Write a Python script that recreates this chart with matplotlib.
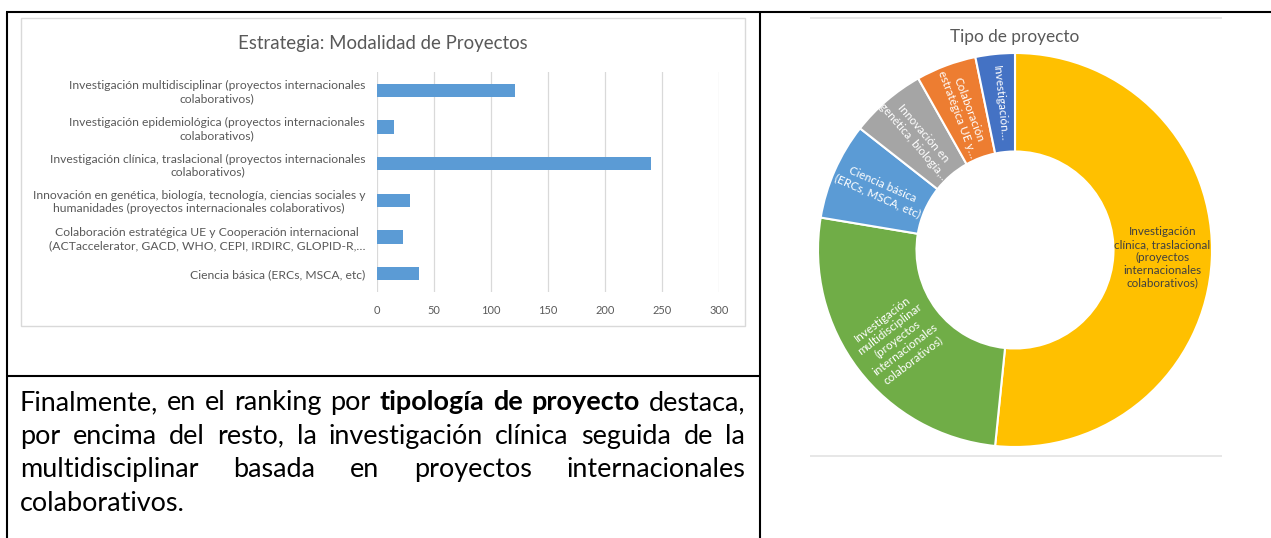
import matplotlib
matplotlib.use("Agg")
import matplotlib.pyplot as plt
from matplotlib.lines import Line2D
from matplotlib.patches import Rectangle
import numpy as np

# ---------------- data ----------------
bar_title = "Estrategia: Modalidad de Proyectos"
categories = [
    "Investigación multidisciplinar (proyectos internacionales\ncolaborativos)",
    "Investigación epidemiológica (proyectos internacionales\ncolaborativos)",
    "Investigación clínica, traslacional (proyectos internacionales\ncolaborativos)",
    "Innovación en genética, biología, tecnología, ciencias sociales y\nhumanidades (proyectos internacionales colaborativos)",
    "Colaboración estratégica UE y Cooperación internacional\n(ACTaccelerator, GACD, WHO, CEPI, IRDIRC, GLOPID-R,…",
    "Ciencia básica (ERCs, MSCA, etc)",
]
values = [121, 15, 240, 29, 23, 37]
xticks = [0, 50, 100, 150, 200, 250, 300]

donut_title = "Tipo de proyecto"
donut_order = [2, 0, 5, 3, 4, 1]  # clockwise from 12 o'clock
donut_labels = [
    "Investigación\nclínica, traslacional\n(proyectos\ninternacionales\ncolaborativos)",
    "Investigación\nmultidisciplinar\n(proyectos\ninternacionales\ncolaborativos)",
    "Ciencia básica\n(ERCs, MSCA, etc)",
    "Innovación en\ngenética, biología,…",
    "Colaboración\nestratégica UE y…",
    "Investigación…",
]
donut_colors = ["#FFC000", "#70AD47", "#5B9BD5", "#A5A5A5", "#ED7D31", "#4472C4"]
donut_text_colors = ["#404040", "white", "white", "white", "white", "white"]

paragraph = [
    [("Finalmente,", False), ("en", False), ("el", False), ("ranking", False), ("por", False),
     ("tipología", True), ("de", True), ("proyecto", True), ("destaca,", False)],
    [("por", False), ("encima", False), ("del", False), ("resto,", False), ("la", False),
     ("investigación", False), ("clínica", False), ("seguida", False), ("de", False), ("la", False)],
    [("multidisciplinar", False), ("basada", False), ("en", False), ("proyectos", False),
     ("internacionales", False)],
    [("colaborativos.", False)],
]

# ---------------- figure ----------------
W, H = 1271, 538
DPI = 100
FONT = ["Lato", "DejaVu Sans"]
plt.rcParams["font.family"] = FONT
fig = plt.figure(figsize=(W / DPI, H / DPI), dpi=DPI)
fig.patch.set_facecolor("white")
renderer = fig.canvas.get_renderer()


def fx(x):
    return x / W


def fy(y):
    return 1 - y / H


def text_width(s, size, weight="normal"):
    t = fig.text(0, 0, s, fontsize=size, weight=weight)
    w = t.get_window_extent(renderer).width
    t.remove()
    return w


def fit_size(s, target_px, weight="normal"):
    return 10 * target_px / text_width(s, 10, weight)


def hline(x0, x1, y, color="black", lw=1.5):
    fig.add_artist(Line2D([fx(x0), fx(x1)], [fy(y), fy(y)], color=color, lw=lw,
                          transform=fig.transFigure, solid_capstyle="butt"))


def vline(x, y0, y1, color="black", lw=1.5):
    fig.add_artist(Line2D([fx(x), fx(x)], [fy(y0), fy(y1)], color=color, lw=lw,
                          transform=fig.transFigure, solid_capstyle="butt"))


# table borders
hline(6, W, 12)
vline(7, 12, H)
vline(760, 12, H)
hline(7, 760, 376)

# ---------------- bar chart ----------------
fig.add_artist(Rectangle((fx(21), fy(326)), fx(745) - fx(21), fy(18) - fy(326),
                         transform=fig.transFigure, fill=False, edgecolor="#D9D9D9", lw=1.0))

ax = fig.add_axes([fx(377), fy(292), fx(719) - fx(377), fy(72) - fy(292)])
y = np.arange(len(categories))
ax.barh(y, values, height=0.355, color="#5B9BD5", zorder=3)
ax.set_xlim(0, 300)
ax.set_ylim(len(categories) - 0.5, -0.5)
ax.set_xticks(xticks)
ax.grid(axis="x", color="#D9D9D9", lw=0.9, zorder=0)
for s in ax.spines.values():
    s.set_visible(False)
ax.tick_params(length=0)
lab_size = fit_size("Innovación en genética, biología, tecnología, ciencias sociales y", 333)
tick_size = fit_size("300", 19)
ax.set_yticks(y)
ax.set_yticklabels(categories, fontsize=lab_size, color="#595959", linespacing=1.2)
for t in ax.get_yticklabels():
    t.set_multialignment("center")
ax.set_xticklabels([str(v) for v in xticks], fontsize=tick_size, color="#595959")
ax.tick_params(axis="y", pad=8.5)
ax.tick_params(axis="x", pad=9)
ax.set_facecolor("none")

title_size = fit_size(bar_title, 291)
fig.text(fx(383), fy(43), bar_title, ha="center", va="center", fontsize=title_size, color="#595959")

# ---------------- paragraph (justified) ----------------
x_left, x_right = 20, 745


def natural_width(words, size):
    sp = text_width("a a", size) - text_width("aa", size)
    return sum(text_width(w, size, "bold" if b else "normal") for w, b in words) + sp * (len(words) - 1)


par_size = 10 * 712 / natural_width(paragraph[0], 10)
space_w = text_width("a a", par_size) - text_width("aa", par_size)
baselines = [410, 444, 477, 511]
for li, (words, base) in enumerate(zip(paragraph, baselines)):
    widths = [text_width(w, par_size, "bold" if b else "normal") for w, b in words]
    if li < len(paragraph) - 1 and len(words) > 1:
        gap = (x_right - x_left - sum(widths)) / (len(words) - 1)
    else:
        gap = space_w
    x = x_left
    for (w, b), wd in zip(words, widths):
        fig.text(fx(x), fy(base), w, ha="left", va="baseline", fontsize=par_size,
                 weight="bold" if b else "normal", color="black")
        x += wd + gap

# ---------------- donut ----------------
hline(810, 1222, 17.5, color="#E3E3E3", lw=1.2)
hline(810, 1222, 456, color="#E3E3E3", lw=1.2)

cx, cy, R = 1015, 250, 197
half = 1.1 * R
axd = fig.add_axes([fx(cx - half), fy(cy + half), fx(2 * half), (2 * half) / H])
dvals = [values[i] for i in donut_order]
wedges, _ = axd.pie(dvals, colors=donut_colors, startangle=90, counterclock=False, radius=1.0,
                    wedgeprops=dict(width=0.5, edgecolor="white", linewidth=1.5))
axd.set_xlim(-1.1, 1.1)
axd.set_ylim(-1.1, 1.1)
axd.set_aspect("auto")
axd.axis("off")

dl_size = fit_size("clínica, traslacional", 95)
for wdg, lab, tc in zip(wedges, donut_labels, donut_text_colors):
    mid = 0.5 * (wdg.theta1 + wdg.theta2)
    rad = np.deg2rad(mid)
    px, py = 0.75 * np.cos(rad), 0.75 * np.sin(rad)
    rot = ((mid + 90) % 180) - 90
    if abs(rot) < 10:
        rot = 0
    axd.text(px, py, lab, ha="center", va="center", rotation=rot, rotation_mode="anchor",
             fontsize=dl_size, color=tc, multialignment="center", linespacing=1.2)

dt_size = fit_size(donut_title, 130)
fig.text(fx(1015), fy(37), donut_title, ha="center", va="center", fontsize=dt_size, color="#595959")

fig.savefig("out.png", dpi=DPI, facecolor="white")
